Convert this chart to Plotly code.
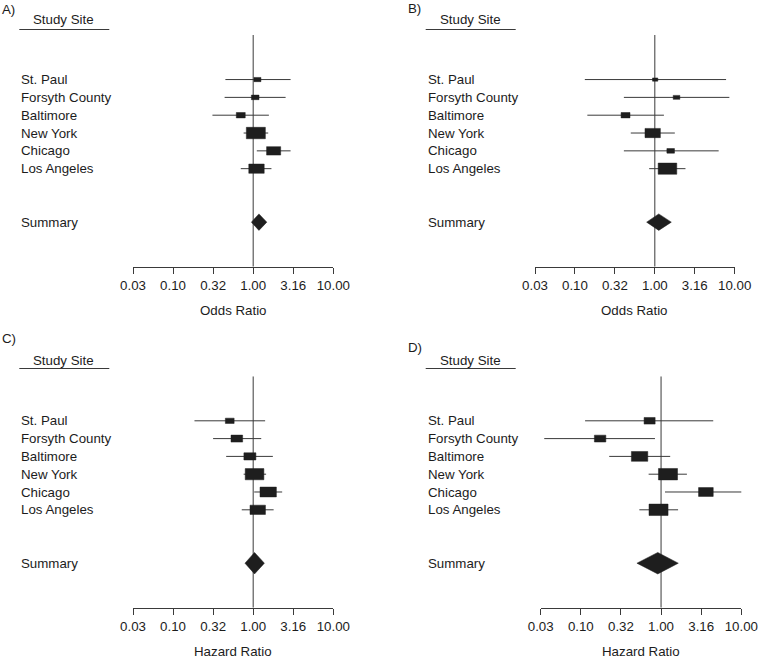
import plotly.graph_objects as go

W, H = 758, 658
FONT = "Liberation Sans, Arial, Helvetica, sans-serif"
INK = "#1c1c1c"
LINE = "#3a3a3a"
BOX = "#1e1e1e"

sites = ["St. Paul", "Forsyth County", "Baltimore", "New York", "Chicago", "Los Angeles"]
tick_vals = [10 ** -1.5, 0.1, 10 ** -0.5, 1.0, 10 ** 0.5, 10.0]
tick_text = ["0.03", "0.10", "0.32", "1.00", "3.16", "10.00"]

# A) odds ratios
est_a = [1.13, 1.06, 0.70, 1.08, 1.80, 1.10]
lo_a = [0.45, 0.44, 0.31, 0.76, 1.11, 0.70]
hi_a = [2.93, 2.54, 1.57, 1.54, 2.93, 1.69]
wt_a = [0.37, 0.40, 0.47, 1.00, 0.74, 0.81]
summary_a = [1.18, 0.95, 1.48]   # estimate, lower, upper

# B) odds ratios
est_b = [1.01, 1.87, 0.43, 0.94, 1.58, 1.44]
lo_b = [0.133, 0.41, 0.143, 0.50, 0.41, 0.85]
hi_b = [7.8, 8.57, 1.30, 1.78, 6.3, 2.42]
wt_b = [0.28, 0.35, 0.47, 0.81, 0.40, 0.98]
summary_b = [1.12, 0.79, 1.61]

# C) hazard ratios
est_c = [0.51, 0.625, 0.91, 1.04, 1.54, 1.14]
lo_c = [0.185, 0.316, 0.46, 0.76, 1.03, 0.72]
hi_c = [1.41, 1.26, 1.76, 1.45, 2.30, 1.80]
wt_c = [0.46, 0.61, 0.63, 0.98, 0.86, 0.81]
summary_c = [1.04, 0.79, 1.38]

# D) hazard ratios
est_d = [0.72, 0.174, 0.54, 1.22, 3.62, 0.93]
lo_d = [0.113, 0.035, 0.226, 0.70, 1.12, 0.536]
hi_d = [4.47, 0.84, 1.30, 2.10, 11.8, 1.63]
wt_d = [0.58, 0.60, 0.86, 1.00, 0.77, 1.00]
summary_d = [0.91, 0.50, 1.64]

# layout of each panel in pixels
panels = [
    dict(tag="A)", xlabel="Odds Ratio", est=est_a, lo=lo_a, hi=hi_a, wt=wt_a, summ=summary_a,
         px=(133, 333.3), py=(35, 266.7), text_x=19.3, tag_xy=(0, 9), head_y=(20, 29.5), diamond_h=16.5),
    dict(tag="B)", xlabel="Odds Ratio", est=est_b, lo=lo_b, hi=hi_b, wt=wt_b, summ=summary_b,
         px=(535, 734.7), py=(35, 266.7), text_x=425.7, tag_xy=(406, 8.5), head_y=(20, 29.5), diamond_h=16.5),
    dict(tag="C)", xlabel="Hazard Ratio", est=est_c, lo=lo_c, hi=hi_c, wt=wt_c, summ=summary_c,
         px=(133, 333.3), py=(376.3, 607.7), text_x=19.3, tag_xy=(0, 338.5), head_y=(360, 368.5), diamond_h=21.5),
    dict(tag="D)", xlabel="Hazard Ratio", est=est_d, lo=lo_d, hi=hi_d, wt=wt_d, summ=summary_d,
         px=(540.7, 741.3), py=(376.3, 607.7), text_x=425.7, tag_xy=(406, 347), head_y=(360, 368.5), diamond_h=21.5),
]

Y_TOP, Y_BOT = 2.5, -10.5
rows = [-i for i in range(len(sites))]
SUMMARY_Y = -8
BOX_MAX_DEC = 0.2375   # width of the biggest box, in decades
BOX_ASPECT = 0.6       # box height / width on screen

fig = go.Figure()
annotations = []
shapes = []
axes = {}

for k, p in enumerate(panels):
    sfx = "" if k == 0 else str(k + 1)
    xa, ya = "x" + sfx, "y" + sfx
    px_per_dec = (p["px"][1] - p["px"][0]) / 2.5
    px_per_row = (p["py"][1] - p["py"][0]) / (Y_TOP - Y_BOT)

    # reference line at 1
    fig.add_trace(go.Scatter(x=[1, 1], y=[Y_BOT, Y_TOP], mode="lines",
                             line=dict(color=LINE, width=1), xaxis=xa, yaxis=ya, hoverinfo="skip"))

    # confidence intervals
    err_plus = [h - e for h, e in zip(p["hi"], p["est"])]
    err_minus = [e - l for e, l in zip(p["est"], p["lo"])]
    fig.add_trace(go.Scatter(
        x=p["est"], y=rows, mode="markers", marker=dict(size=1, color="rgba(0,0,0,0)"),
        error_x=dict(type="data", symmetric=False, array=err_plus, arrayminus=err_minus,
                     width=0, thickness=1, color=LINE),
        cliponaxis=False, xaxis=xa, yaxis=ya, hoverinfo="skip"))

    # boxes sized by weight
    bx, by = [], []
    for e, w, y in zip(p["est"], p["wt"], rows):
        wd = w * BOX_MAX_DEC
        hh = BOX_ASPECT * wd * px_per_dec / px_per_row / 2
        xl, xr = e * 10 ** (-wd / 2), e * 10 ** (wd / 2)
        bx += [xl, xr, xr, xl, xl, None]
        by += [y - hh, y - hh, y + hh, y + hh, y - hh, None]
    fig.add_trace(go.Scatter(x=bx, y=by, mode="lines", fill="toself", fillcolor=BOX,
                             line=dict(color=BOX, width=0.5), xaxis=xa, yaxis=ya, hoverinfo="skip"))

    # summary diamond
    se, sl, sh = p["summ"]
    dh = p["diamond_h"] / px_per_row / 2
    fig.add_trace(go.Scatter(x=[sl, se, sh, se, sl],
                             y=[SUMMARY_Y, SUMMARY_Y + dh, SUMMARY_Y, SUMMARY_Y - dh, SUMMARY_Y],
                             mode="lines", fill="toself", fillcolor=BOX,
                             line=dict(color=BOX, width=0.5), xaxis=xa, yaxis=ya, hoverinfo="skip"))

    axes["xaxis" + sfx] = dict(
        type="log", range=[-1.5, 1], domain=[p["px"][0] / W, p["px"][1] / W], anchor=ya,
        tickvals=tick_vals, ticktext=tick_text, ticks="outside", ticklen=6, tickwidth=1,
        tickcolor=LINE, showline=True, linecolor=LINE, linewidth=1, showgrid=False,
        zeroline=False, tickfont=dict(size=13.3, color=INK), fixedrange=True, automargin=False)
    axes["yaxis" + sfx] = dict(
        range=[Y_BOT, Y_TOP], domain=[1 - p["py"][1] / H, 1 - p["py"][0] / H], anchor=xa,
        visible=False, fixedrange=True, automargin=False)

    # text
    for name, y in zip(sites + ["Summary"], rows + [SUMMARY_Y]):
        annotations.append(dict(text=name, x=p["text_x"] / W, y=y, xref="paper", yref=ya,
                                xanchor="left", yanchor="middle", showarrow=False))
    annotations.append(dict(text=p["tag"], x=p["tag_xy"][0] / W, y=1 - p["tag_xy"][1] / H,
                            xref="paper", yref="paper", xanchor="left", yanchor="middle",
                            showarrow=False))
    annotations.append(dict(text="Study Site", x=(p["text_x"] + 44.5) / W, y=1 - p["head_y"][0] / H,
                            xref="paper", yref="paper", xanchor="center", yanchor="middle",
                            showarrow=False))
    annotations.append(dict(text=p["xlabel"], x=0.5, y=1 - (p["py"][1] + 43.5) / H,
                            xref=xa + " domain", yref="paper", xanchor="center", yanchor="middle",
                            showarrow=False))
    shapes.append(dict(type="line", xref="paper", yref="paper",
                       x0=p["text_x"] / W, x1=(p["text_x"] + 90) / W,
                       y0=1 - p["head_y"][1] / H, y1=1 - p["head_y"][1] / H,
                       line=dict(color=LINE, width=1)))

fig.update_layout(
    template="none",
    width=W, height=H, margin=dict(l=0, r=0, t=0, b=0, pad=0),
    paper_bgcolor="white", plot_bgcolor="white", showlegend=False,
    font=dict(family=FONT, size=13.3, color=INK),
    annotations=annotations, shapes=shapes, **axes)

# page margin would push the figure off the window
fig.write_html("out.html", config={"displayModeBar": False, "staticPlot": True},
               post_script="document.body.style.margin='0';document.body.style.overflow='hidden';")
